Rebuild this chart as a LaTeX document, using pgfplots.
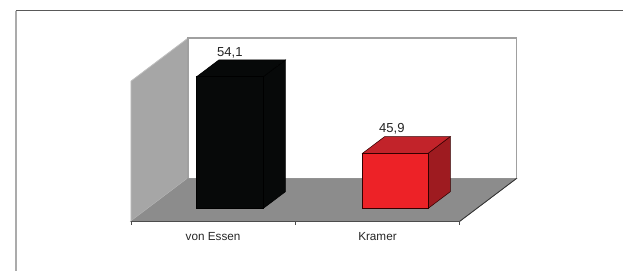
\documentclass[border=0pt]{standalone}
\usepackage{pgfplots}
\pgfplotsset{compat=1.18}
\usepackage{fontspec}
\setmainfont{Liberation Sans}
\definecolor{sidewall}{HTML}{A6A6A6}
\definecolor{floorc}{HTML}{8C8C8C}
\definecolor{wallline}{HTML}{A0A0A0}
\definecolor{redfront}{HTML}{ED2227}
\definecolor{redtop}{HTML}{C2232A}
\definecolor{redside}{HTML}{9E1B20}
\definecolor{blk}{HTML}{070909}
\pgfplotsset{table/obl/.style={x expr=\thisrow{x}+0.3465*\thisrow{t}, y expr=\thisrow{v}+4.6*\thisrow{t}, row sep=\\}}
\begin{document}
\begin{tikzpicture}
\begin{axis}[width=467.25pt, height=203.25pt, scale only axis,
  xmin=-0.7964, xmax=2.9909, ymin=34.706, ymax=63.69,
  hide axis, clip=false, font=\fontsize{8.8}{10}\selectfont]
\path (rel axis cs:0,0) rectangle (rel axis cs:1,1);
% outer frame
\draw[color=black!65, line width=0.7pt] (axis cs:-0.701,62.55) -- (axis cs:2.9909,62.55);
\draw[color=black!33, line width=1.3pt] (axis cs:-0.701,62.55) -- (axis cs:-0.701,34.706);
% floor
\addplot[fill=floorc, draw=black!70, line width=0.5pt] table[obl]{x v t\\0 40 0\\2 40 0\\2 40 1\\0 40 1\\} -- cycle;
% side wall
\addplot[fill=sidewall, draw=black!25, line width=0.6pt] table[obl]{x v t\\0 40 0\\0 40 1\\0 55 1\\0 55 0\\} -- cycle;
% back wall
\addplot[fill=white, draw=wallline, line width=1.2pt] table[obl]{x v t\\0 40 1\\2 40 1\\2 55 1\\0 55 1\\} -- cycle;
\addplot[fill=floorc, draw=none] table[obl]{x v t\\0 40 0\\2 40 0\\2 40 1\\0 40 1\\} -- cycle;
\addplot[draw=black!80, line width=0.6pt] table[obl]{x v t\\2 40 0\\2 40 1\\};
% axis line and ticks
\addplot[draw=black!70, line width=1pt] table[obl]{x v t\\0 40 0\\2 40 0\\};
\addplot[draw=black!70, line width=0.6pt] table[obl]{x v t\\0 40 0\\0 39.6 0\\};
\addplot[draw=black!70, line width=0.6pt] table[obl]{x v t\\1 40 0\\1 39.6 0\\};
\addplot[draw=black!70, line width=0.6pt] table[obl]{x v t\\2 40 0\\2 39.6 0\\};
% von Essen bar (54.1)
\addplot[fill=blk, draw=black, line width=0.4pt] table[obl]{x v t\\0.701 40 0.3\\0.701 40 0.69\\0.701 54.1 0.69\\0.701 54.1 0.3\\} -- cycle;
\addplot[fill=blk, draw=black, line width=0.4pt] table[obl]{x v t\\0.296 54.1 0.3\\0.701 54.1 0.3\\0.701 54.1 0.69\\0.296 54.1 0.69\\} -- cycle;
\addplot[fill=blk, draw=black, line width=0.4pt] table[obl]{x v t\\0.296 40 0.3\\0.701 40 0.3\\0.701 54.1 0.3\\0.296 54.1 0.3\\} -- cycle;
% Kramer bar (45.9)
\addplot[fill=redside, draw=black!80!red, line width=0.4pt] table[obl]{x v t\\1.704 40 0.3\\1.704 40 0.69\\1.704 45.9 0.69\\1.704 45.9 0.3\\} -- cycle;
\addplot[fill=redtop, draw=black!80!red, line width=0.4pt] table[obl]{x v t\\1.305 45.9 0.3\\1.704 45.9 0.3\\1.704 45.9 0.69\\1.305 45.9 0.69\\} -- cycle;
\addplot[fill=redfront, draw=black!80!red, line width=0.4pt] table[obl]{x v t\\1.305 40 0.3\\1.704 40 0.3\\1.704 45.9 0.3\\1.305 45.9 0.3\\} -- cycle;
% labels
\node[color=black!85, font=\fontsize{9.8}{11}\selectfont] at (axis cs:0.602,58.05) {54,1};
\node[color=black!85, font=\fontsize{9.8}{11}\selectfont] at (axis cs:1.588,49.86) {45,9};
\node[color=black!85] at (axis cs:0.5,38.34) {von Essen};
\node[color=black!85] at (axis cs:1.5,38.34) {Kramer};
\end{axis}
\end{tikzpicture}
\end{document}
